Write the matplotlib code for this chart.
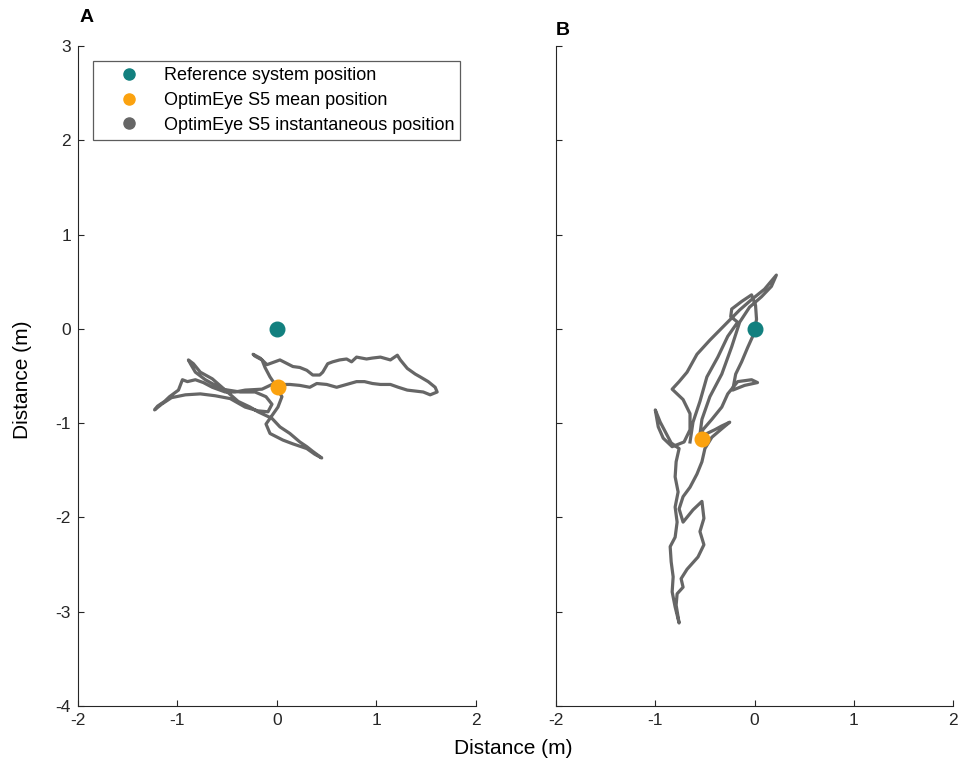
import matplotlib
matplotlib.use("Agg")
import matplotlib.pyplot as plt
from matplotlib.lines import Line2D

plt.rcParams['font.family'] = ['Liberation Sans', 'DejaVu Sans']
plt.rcParams['axes.unicode_minus'] = False

# Panel A trajectory (m)
a_x = [0.00, -0.07, -0.12, -0.15, -0.22, -0.24, -0.17, -0.10, 0.03, 0.16, 0.23, 0.30, 0.36, 0.43, 0.46,
       0.51, 0.56, 0.63, 0.70, 0.75, 0.80, 0.90, 0.96, 1.04, 1.14, 1.21, 1.24, 1.31, 1.39, 1.44, 1.52,
       1.59, 1.61, 1.54, 1.47, 1.39, 1.31, 1.22, 1.14, 1.04, 0.96, 0.88, 0.80, 0.70, 0.60, 0.50, 0.40,
       0.33, 0.23, 0.13, 0.03, -0.05, -0.15, -0.32, -0.42, -0.52, -0.65, -0.74, -0.82, -0.90, -0.95,
       -0.99, -1.08, -1.13, -1.20, -1.23, -1.16, -1.06, -0.92, -0.77, -0.62, -0.47, -0.32, -0.19, -0.09,
       -0.05, -0.11, -0.22, -0.37, -0.55, -0.72, -0.82, -0.87, -0.89, -0.84, -0.77, -0.65, -0.52, -0.39,
       -0.27, -0.19, -0.05, 0.03, 0.13, 0.23, 0.30, 0.36, 0.45, 0.38, 0.30, 0.16, 0.06, -0.07, -0.11,
       -0.05, 0.01, 0.05, 0.01]
a_y = [-0.62, -0.51, -0.41, -0.33, -0.29, -0.27, -0.31, -0.38, -0.33, -0.40, -0.41, -0.44, -0.49, -0.49, -0.46,
       -0.37, -0.35, -0.33, -0.32, -0.35, -0.30, -0.32, -0.31, -0.30, -0.33, -0.28, -0.33, -0.42, -0.48, -0.51, -0.56,
       -0.62, -0.67, -0.70, -0.67, -0.66, -0.65, -0.62, -0.59, -0.59, -0.58, -0.56, -0.56, -0.59, -0.62, -0.59, -0.58,
       -0.62, -0.60, -0.59, -0.59, -0.59, -0.64, -0.65, -0.67, -0.67, -0.62, -0.57, -0.54, -0.56, -0.54,
       -0.65, -0.72, -0.77, -0.82, -0.86, -0.80, -0.73, -0.70, -0.69, -0.71, -0.74, -0.83, -0.87, -0.88,
       -0.80, -0.72, -0.67, -0.67, -0.64, -0.54, -0.46, -0.37, -0.33, -0.37, -0.46, -0.53, -0.65, -0.77,
       -0.83, -0.88, -0.95, -1.04, -1.11, -1.20, -1.25, -1.30, -1.37, -1.33, -1.27, -1.22, -1.18, -1.11, -1.01,
       -0.92, -0.83, -0.72, -0.65]

# Panel B trajectory (m)
b_x = [-0.53, -0.48, -0.40, -0.33, -0.25, -0.33, -0.43, -0.50, -0.53, -0.58, -0.65, -0.72, -0.76, -0.72,
       -0.62, -0.53, -0.51, -0.55, -0.51, -0.57, -0.68, -0.74, -0.72, -0.78, -0.79, -0.76, -0.80, -0.83,
       -0.82, -0.84, -0.85, -0.80, -0.78, -0.80, -0.77, -0.80, -0.79, -0.76, -0.84, -0.90, -0.95, -1.00,
       -0.97, -0.92, -0.83, -0.71, -0.65, -0.65, -0.72, -0.83, -0.76, -0.68, -0.58, -0.45, -0.30, -0.15,
       -0.03, 0.10, 0.22, 0.17, 0.07, -0.05, -0.15, -0.23, -0.33, -0.45, -0.53, -0.56, -0.52, -0.43,
       -0.33, -0.27, -0.17, -0.03, 0.03, -0.10, -0.22, -0.19, -0.13, -0.07, -0.01, 0.02, 0.01, -0.03,
       -0.13, -0.23, -0.24, -0.17, -0.27, -0.37, -0.48, -0.55, -0.62, -0.65]
b_y = [-1.17, -1.11, -1.07, -1.03, -0.99, -1.06, -1.15, -1.27, -1.41, -1.54, -1.68, -1.78, -1.91, -2.05,
       -1.92, -1.83, -2.01, -2.15, -2.29, -2.42, -2.55, -2.65, -2.74, -2.81, -2.93, -3.12, -2.95, -2.79,
       -2.63, -2.47, -2.31, -2.21, -2.05, -1.89, -1.73, -1.57, -1.41, -1.27, -1.21, -1.09, -0.99, -0.86,
       -1.04, -1.16, -1.25, -1.20, -1.07, -0.90, -0.75, -0.64, -0.56, -0.46, -0.27, -0.12, 0.04, 0.20,
       0.31, 0.42, 0.57, 0.45, 0.34, 0.23, 0.07, -0.19, -0.48, -0.72, -0.96, -1.20, -1.07, -0.96,
       -0.83, -0.69, -0.56, -0.54, -0.57, -0.60, -0.65, -0.48, -0.35, -0.20, -0.06, 0.10, 0.25, 0.36,
       0.29, 0.21, 0.13, 0.07, -0.08, -0.30, -0.51, -0.77, -0.99, -1.20]

ref_pos = (0.0, 0.0)
mean_a = (0.01, -0.62)
mean_b = (-0.53, -1.17)

x_ticks = [-2, -1, 0, 1, 2]
y_ticks = [-4, -3, -2, -1, 0, 1, 2, 3]
legend_labels = ["Reference system position", "OptimEye S5 mean position",
                 "OptimEye S5 instantaneous position"]

TEAL = '#12807f'
ORANGE = '#fba20f'
GRAY = '#666666'

fig = plt.figure(figsize=(9.59, 7.72), dpi=100)
axA = fig.add_axes([0.0813, 0.0855, 0.415, 0.855])
axB = fig.add_axes([0.5798, 0.0855, 0.414, 0.855])

for ax, (tx, ty), mean in [(axA, (a_x, a_y), mean_a), (axB, (b_x, b_y), mean_b)]:
    ax.plot(tx, ty, color=GRAY, lw=2.3, solid_joinstyle='round', zorder=2)
    ax.plot([ref_pos[0]], [ref_pos[1]], 'o', color=TEAL, ms=10.5, zorder=3)
    ax.plot([mean[0]], [mean[1]], 'o', color=ORANGE, ms=10.5, zorder=3)
    ax.set_xlim(-2, 2)
    ax.set_ylim(-4, 3)
    ax.set_xticks(x_ticks)
    ax.set_yticks(y_ticks)
    ax.spines['top'].set_visible(False)
    ax.spines['right'].set_visible(False)
    for s in ['left', 'bottom']:
        ax.spines[s].set_linewidth(0.8)
        ax.spines[s].set_color('#262626')
    ax.tick_params(direction='in', length=4, width=0.8, labelsize=12.5, colors='#262626', pad=5)

axB.set_yticklabels([])

handles = [Line2D([], [], ls='none', marker='o', color=c, ms=8) for c in (TEAL, ORANGE, GRAY)]
leg = axA.legend(handles, legend_labels, loc='upper left', bbox_to_anchor=(0.038, 0.977),
                 frameon=True, fancybox=False, edgecolor='#333333', fontsize=13,
                 handletextpad=0.3, borderpad=0.35, labelspacing=0.42, handlelength=3.25,
                 borderaxespad=0)
leg.get_frame().set_linewidth(0.9)

fig.text(0.090, 0.977, 'A', fontsize=14, fontweight='bold', ha='center', va='center')
fig.text(0.587, 0.960, 'B', fontsize=14, fontweight='bold', ha='center', va='center')
fig.text(0.535, 0.031, 'Distance (m)', fontsize=15, ha='center', va='center')
fig.text(0.023, 0.508, 'Distance (m)', fontsize=15, ha='center', va='center', rotation=90)

fig.savefig('out.png', dpi=100)
